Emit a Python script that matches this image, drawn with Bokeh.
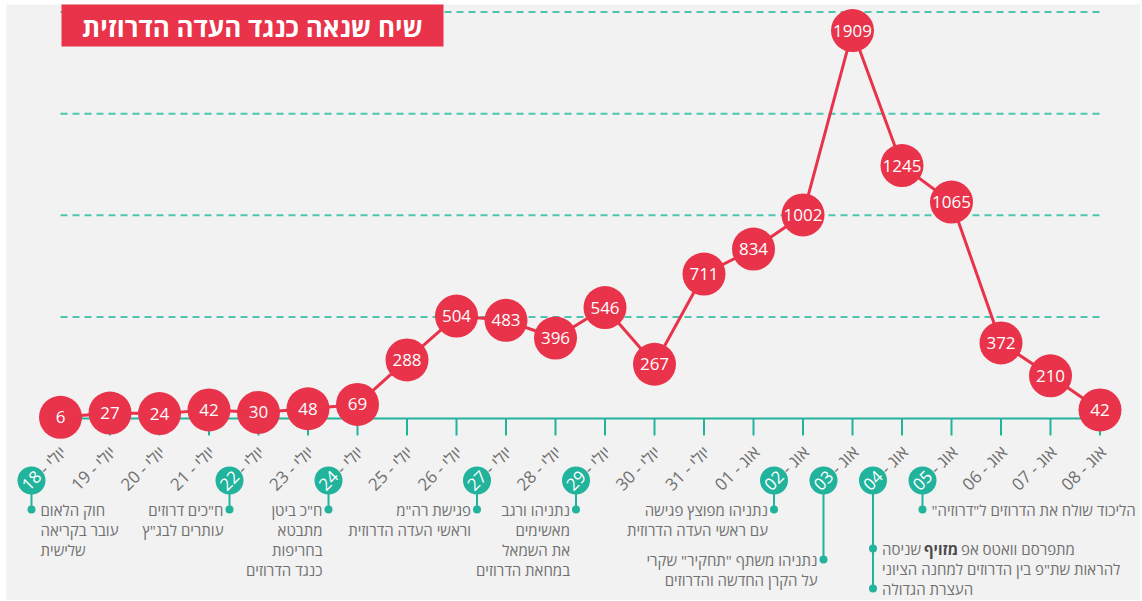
import math
from bokeh.plotting import figure
from bokeh.models import ColumnDataSource, Range1d
from bokeh.core.properties import value
from bokeh.embed import file_html
from bokeh.resources import INLINE

# ---------------- data ----------------
day_labels = ["18", "19", "20", "21", "22", "23", "24", "25", "26", "27", "28",
              "29", "30", "31", "01", "02", "03", "04", "05", "06", "07", "08"]
month_labels = ["יולי"] * 14 + ["אוג"] * 8
counts = [6, 27, 24, 42, 30, 48, 69, 288, 504, 483, 396, 546, 267, 711, 834,
          1002, 1909, 1245, 1065, 372, 210, 42]
grid_values = [500, 1000, 1500, 2000]
title_text = "שיח שנאה כנגד העדה הדרוזית"

event_pos = [0, 4, 6, 9, 11, 15, 16, 17, 18]   # index into the day lists
event_texts = [
    ["חוק הלאום", "עובר בקריאה", "שלישית"],
    ["ח\"כים דרוזים", "עותרים לבג\"ץ"],
    ["ח\"כ ביטן", "מתבטא", "בחריפות", "כנגד הדרוזים"],
    ["פגישת רה\"מ", "וראשי העדה הדרוזית"],
    ["נתניהו ורגב", "מאשימים", "את השמאל", "במחאת הדרוזים"],
    ["נתניהו מפוצץ פגישה", "עם ראשי העדה הדרוזית"],
    ["נתניהו משתף \"תחקיר\" שקרי", "על הקרן החדשה והדרוזים"],
    ["מתפרסם וואטס אפ מזויף שניסה", "להראות שת\"פ בין הדרוזים למחנה הציוני", "העצרת הגדולה"],
    ["הליכוד שולח את הדרוזים ל\"דרוזיה\"\u200f"],
]
bold_word = "מזויף"

# ---------------- layout / style ----------------
W, H = 1140, 600
FL, FT = 6, 4                          # white page border (frame left / top)
X0_PX, DX = 60.0, 49.5                 # px of first day, px per day
BASE_PX, PPU = 418.0, 101.6 / 500.0    # baseline px from top, px per unit

RED = "#e8334a"
TEAL = "#22b39c"
GRID_TEAL = "#4cc6ae"
GRAY = "#707070"
BG = "#f2f2f2"
FONT = value("Open Sans")

def dxu(px):
    return px / DX

def dyu(px_down):
    return -px_down / PPU

def px2x(px):
    return (px - X0_PX) / DX

def px2y(py):
    return (BASE_PX - py) / PPU

p = figure(width=W, height=H, output_backend="svg", toolbar_location=None,
           x_axis_type=None, y_axis_type=None, min_border=0,
           min_border_left=FL, min_border_top=FT,
           x_range=Range1d(px2x(FL), px2x(W)),
           y_range=Range1d(px2y(H), px2y(FT)))
p.background_fill_color = BG
p.border_fill_color = "white"
p.outline_line_color = None

n = len(counts)
xs = list(range(n))

# dashed horizontal grid lines spanning the first to the last day
p.segment([0] * len(grid_values), grid_values, [n - 1] * len(grid_values), grid_values,
          line_color=GRID_TEAL, line_dash="7 5", line_width=2)

# teal baseline with ticks
zeros = [0] * n
p.line(xs, zeros, line_color=TEAL, line_width=2)
p.segment(xs, zeros, xs, [dyu(17)] * n, line_color=TEAL, line_width=2)

# red series
src = ColumnDataSource(dict(x=xs, y=counts, t=[str(c) for c in counts]))
p.line("x", "y", source=src, line_color=RED, line_width=3)
p.scatter("x", "y", source=src, size=43, marker="circle", fill_color=RED, line_color=None)
p.text("x", "y", text="t", source=src, text_color="white", text_font=FONT,
       text_font_size="17px", text_align="center", text_baseline="middle")

# date labels
NUM_DX, NUM_DY = -29, 62
ANG = math.pi / 4
num_x = [i + dxu(NUM_DX) for i in xs]
num_y = [dyu(NUM_DY)] * n

# event callouts: (align, first line px below baseline, dot offsets)
EV_LAYOUT = [("left", 91, [91]), ("right", 91, [91]), ("right", 91, [91]),
             ("right", 91, [91]), ("right", 91, [91]), ("right", 91, [91]),
             ("right", 141, [141]), ("left", 130, [130, 170]), ("left", 91, [91])]
LINE_H = 20
seg_x0, seg_y0, seg_x1, seg_y1 = [], [], [], []
dot_x, dot_y = [], []
tl_x, tl_y, tl_t, tl_a = [], [], [], []
for k, idx in enumerate(event_pos):
    align, first, dots = EV_LAYOUT[k]
    cx = idx + dxu(NUM_DX)
    seg_x0.append(cx); seg_y0.append(dyu(NUM_DY))
    seg_x1.append(cx); seg_y1.append(dyu(max(dots)))
    for dpx in dots:
        dot_x.append(cx); dot_y.append(dyu(dpx))
    gap = 9 if align == "left" else -6
    for j, line in enumerate(event_texts[k]):
        if bold_word in line:
            continue
        tl_x.append(cx + dxu(gap)); tl_y.append(dyu(first + j * LINE_H))
        tl_t.append(line); tl_a.append(align)

p.segment(seg_x0, seg_y0, seg_x1, seg_y1, line_color=TEAL, line_width=2)
p.scatter(dot_x, dot_y, size=8, marker="circle", fill_color=TEAL, line_color=None)

p.scatter([num_x[i] for i in event_pos], [num_y[i] for i in event_pos], size=28,
          marker="circle", fill_color=TEAL, line_color=None)
num_col = ["white" if i in event_pos else GRAY for i in xs]
p.text(num_x, num_y, text=day_labels, angle=ANG, text_color=num_col, text_font=FONT,
       text_font_size="17px", text_align="center", text_baseline="middle")
d = 14
wx = [i + dxu(NUM_DX + d * math.cos(ANG)) for i in xs]
wy = [dyu(NUM_DY - d * math.sin(ANG))] * n
p.text(wx, wy, text=["- " + m for m in month_labels], angle=ANG, text_color=GRAY,
       text_font=FONT, text_font_size="17px", text_align="left", text_baseline="middle")

tsrc = ColumnDataSource(dict(x=tl_x, y=tl_y, t=tl_t, a=tl_a))
p.text("x", "y", text="t", source=tsrc, text_align="a", text_color=GRAY, text_font=FONT,
       text_font_size="15px", text_baseline="middle")

# line with bold word (event "04"), laid out right-to-left from its left edge
k4 = 7
align, first, dots = EV_LAYOUT[k4]
line = [l for l in event_texts[k4] if bold_word in l][0]
before, after = [s.strip() for s in line.split(bold_word)]
cx = event_pos[k4] + dxu(NUM_DX)
x_left = cx + dxu(9)
W_AFTER, W_BOLD, SP = 38, 33, 4
yline = dyu(first)
p.text([x_left], [yline], text=[after], text_align="left", text_baseline="middle",
       text_color=GRAY, text_font=FONT, text_font_size="15px")
p.text([x_left + dxu(W_AFTER + SP)], [yline], text=[bold_word], text_align="left",
       text_baseline="middle", text_color="#4a4a4a", text_font=FONT,
       text_font_size="15px", text_font_style="bold")
p.text([x_left + dxu(W_AFTER + W_BOLD + 2 * SP)], [yline], text=[before], text_align="left",
       text_baseline="middle", text_color=GRAY, text_font=FONT, text_font_size="15px")

# title box
p.quad(left=[px2x(61)], right=[px2x(443)], top=[px2y(4)], bottom=[px2y(46)],
       fill_color=RED, line_color=None, level="overlay")
p.text([px2x(252)], [px2y(26)], text=[title_text], text_align="center",
       text_baseline="middle", text_color="white", text_font=FONT,
       text_font_size="26px", text_font_style="bold", level="overlay")

open("out.html", "w").write(file_html(p, INLINE))
